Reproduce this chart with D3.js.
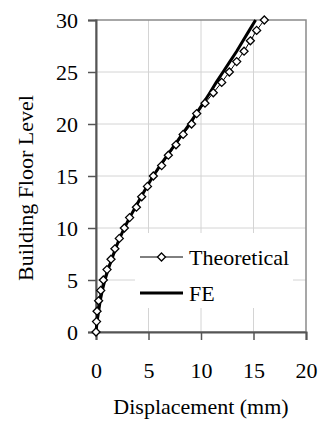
<!DOCTYPE html>
<html>
<head>
<meta charset="utf-8">
<script src="https://cdn.jsdelivr.net/npm/d3@7"></script>
<style>
  body { margin: 0; background: #fff; }
  svg text { font-family: "Liberation Serif", "Times New Roman", Tinos, Times, "DejaVu Serif", serif !important; fill: #000; }
</style>
</head>
<body>
<div id="chart"></div>
<script>
// Floor levels 0..30
const floors = d3.range(0, 31);

// Theoretical displacement (mm)
const theoretical = [0, 0.05, 0.1, 0.25, 0.45, 0.7, 1.05, 1.43, 1.8, 2.22,
  2.7, 3.2, 3.85, 4.35, 4.9, 5.46, 6.25, 6.89, 7.62, 8.3,
  9.1, 9.59, 10.38, 11.17, 11.97, 12.7, 13.4, 14.1, 14.7, 15.3, 16.03];

// FE displacement (mm)
const fe = [0, 0.1, 0.25, 0.4, 0.6, 0.85, 1.15, 1.5, 1.85, 2.25,
  2.7, 3.2, 3.75, 4.3, 4.85, 5.45, 6.1, 6.8, 7.5, 8.2,
  8.9, 9.55, 10.2, 10.85, 11.45, 12.1, 12.75, 13.4, 14.0, 14.6, 15.2];

const xTicks = [0, 5, 10, 15, 20];
const yTicks = [0, 5, 10, 15, 20, 25, 30];
const seriesNames = ["Theoretical", "FE"];

const width = 321, height = 426;
const svg = d3.select("#chart").append("svg")
  .attr("width", width).attr("height", height);

const x = d3.scaleLinear().domain([0, 20]).range([96, 306]);
const y = d3.scaleLinear().domain([0, 30]).range([332, 20]);

// GRID
svg.append("g").selectAll("line.vg")
  .data(xTicks.slice(1, -1)).enter().append("line")
  .attr("x1", d => x(d)).attr("x2", d => x(d))
  .attr("y1", y(30)).attr("y2", y(0))
  .style("stroke", "#d4d4d4").style("stroke-width", 1);

svg.append("g").selectAll("line.hg")
  .data(yTicks.slice(1, -1)).enter().append("line")
  .attr("x1", x(0)).attr("x2", x(20))
  .attr("y1", d => y(d)).attr("y2", d => y(d))
  .style("stroke", "#d4d4d4").style("stroke-width", 1);

// plot area border
svg.append("rect")
  .attr("x", x(0)).attr("y", y(30))
  .attr("width", x(20) - x(0)).attr("height", y(0) - y(30))
  .style("fill", "none").style("stroke", "#8a8a8a").style("stroke-width", 1.5);

// AXES
const yAxis = svg.append("g")
  .attr("transform", `translate(${x(0)},0)`)
  .call(d3.axisLeft(y).tickValues(yTicks).tickSize(8).tickPadding(10).tickFormat(d3.format("d")));
const xAxis = svg.append("g")
  .attr("transform", `translate(0,${y(0)})`)
  .call(d3.axisBottom(x).tickValues(xTicks).tickSize(8).tickPadding(22).tickFormat(d3.format("d")));

[xAxis, yAxis].forEach(a => {
  a.attr("font-family", null).attr("font-size", null);
  a.select(".domain").style("stroke", "#555").style("stroke-width", 2);
  a.selectAll(".tick line").style("stroke", "#555").style("stroke-width", 1.5);
  a.selectAll("text").style("font-size", "22px").style("fill", "#000");
});

// LINES
const line = d3.line().x(d => x(d[0])).y(d => y(d[1]));
const diamond = "M0,-4L4,0L0,4L-4,0Z";

svg.append("path")
  .datum(fe.map((v, i) => [v, floors[i]]))
  .attr("d", line)
  .style("fill", "none").style("stroke", "#000").style("stroke-width", 3);

svg.append("path")
  .datum(theoretical.map((v, i) => [v, floors[i]]))
  .attr("d", line)
  .style("fill", "none").style("stroke", "#000").style("stroke-width", 1);

svg.append("g").selectAll("path")
  .data(theoretical.map((v, i) => [v, floors[i]])).enter().append("path")
  .attr("d", diamond)
  .attr("transform", d => `translate(${x(d[0])},${y(d[1])})`)
  .style("fill", "#fff").style("stroke", "#000").style("stroke-width", 1.3);

// LEGEND
const lg = svg.append("g");
lg.append("rect")
  .attr("x", 135).attr("y", 233).attr("width", 158).attr("height", 75)
  .style("fill", "#fff");

seriesNames.forEach((name, i) => {
  const ly = 257 + i * 36;
  lg.append("line")
    .attr("x1", 140).attr("x2", 183).attr("y1", ly).attr("y2", ly)
    .style("stroke", "#000").style("stroke-width", i === 0 ? 1 : 3);
  if (i === 0) {
    lg.append("path").attr("d", diamond)
      .attr("transform", `translate(161.5,${ly})`)
      .style("fill", "#fff").style("stroke", "#000").style("stroke-width", 1.3);
  }
  lg.append("text")
    .attr("x", 189).attr("y", ly + 7.5)
    .style("font-size", "22px")
    .text(name);
});

// AXIS LABELS
svg.append("text")
  .attr("x", x(10)).attr("y", 414)
  .attr("text-anchor", "middle")
  .style("font-size", "22px")
  .text("Displacement (mm)");

svg.append("text")
  .attr("transform", "rotate(-90)")
  .attr("x", -188).attr("y", 33)
  .attr("text-anchor", "middle")
  .style("font-size", "22px")
  .text("Building Floor Level");
</script>
</body>
</html>
